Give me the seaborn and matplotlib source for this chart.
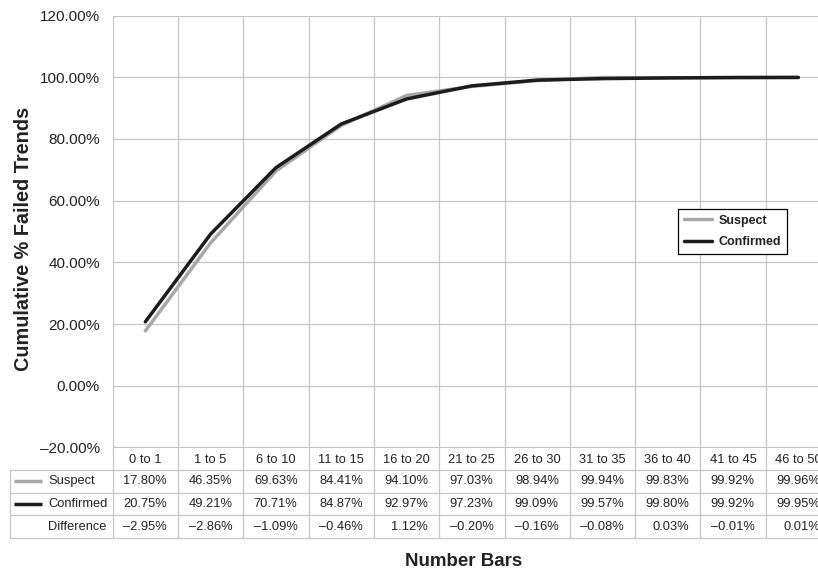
import numpy as np
import pandas as pd
import matplotlib
matplotlib.use("Agg")
import matplotlib.pyplot as plt
import seaborn as sns

# ---- data -------------------------------------------------------------
categories = ["0 to 1", "1 to 5", "6 to 10", "11 to 15", "16 to 20", "21 to 25",
              "26 to 30", "31 to 35", "36 to 40", "41 to 45", "46 to 50"]
suspect = [17.80, 46.35, 69.63, 84.41, 94.10, 97.03, 98.94, 99.94, 99.83, 99.92, 99.96]
confirmed = [20.75, 49.21, 70.71, 84.87, 92.97, 97.23, 99.09, 99.57, 99.80, 99.92, 99.95]
difference = [-2.95, -2.86, -1.09, -0.46, 1.12, -0.20, -0.16, -0.08, 0.03, -0.01, 0.01]
series_names = ["Suspect", "Confirmed"]
y_ticks = [-20, 0, 20, 40, 60, 80, 100, 120]

# ---- style ------------------------------------------------------------
sns.set_theme(style="whitegrid")
plt.rcParams["font.family"] = ["Liberation Sans", "DejaVu Sans"]

GRID = "#c6c6c6"
TEXT = "#222222"
palette = {"Suspect": "#a8a8a8", "Confirmed": "#1c1c1c"}
LW = 2.5

W, H = 818, 571
fig = plt.figure(figsize=(W / 100, H / 100), dpi=100)


def fx(px):
    return px / W


def fy(py):
    return 1 - py / H


# axes geometry in pixels
x0, x1 = 112.7, 831.0
ytop, ybot, tbot = 15.6, 447.5, 538.0
col_w = (x1 - x0) / len(categories)

ax = fig.add_axes([fx(x0), fy(ybot), (x1 - x0) / W, (ybot - ytop) / H])
tax = fig.add_axes([fx(x0), fy(tbot), (x1 - x0) / W, (tbot - ybot) / H])

# ---- lines ------------------------------------------------------------
df = pd.DataFrame({
    "Number Bars": categories * 2,
    "value": suspect + confirmed,
    "series": ["Suspect"] * len(categories) + ["Confirmed"] * len(categories),
})
sns.lineplot(data=df, x="Number Bars", y="value", hue="series",
             hue_order=series_names, palette=palette, linewidth=LW,
             sort=False, ax=ax)

n = len(categories)
ax.set_xlim(-0.5, n - 0.5)
ax.set_ylim(y_ticks[0], y_ticks[-1])
ax.set_xticks(np.arange(-0.5, n, 1.0))
ax.set_xticklabels([])
ax.tick_params(axis="x", length=0)
ax.set_yticks(y_ticks)
ax.set_yticklabels([f"{v:.2f}%".replace("-", "\u2013") for v in y_ticks])
ax.tick_params(axis="y", length=4.3, width=0.9, color=GRID, pad=5,
               labelsize=11, labelcolor=TEXT)
ax.grid(True, color=GRID, linewidth=0.9)
ax.set_xlabel("")
ax.set_ylabel("")
for s in ax.spines.values():
    s.set_visible(False)
ax.set_facecolor("white")

handles, labels = ax.get_legend_handles_labels()
leg = ax.legend(handles, labels, loc="upper left", bbox_to_anchor=(0.787, 0.552),
                frameon=True, fancybox=False, edgecolor="black", framealpha=1,
                prop=dict(weight="bold", size=9), handlelength=2.3,
                borderpad=0.45, labelspacing=0.77, handletextpad=0.5,
                borderaxespad=0)
leg.get_frame().set_linewidth(0.9)
for t in leg.get_texts():
    t.set_color(TEXT)

# ---- data table -------------------------------------------------------
tax.set_xlim(-0.5, n - 0.5)
tax.set_ylim(4, 0)
tax.axis("off")

left_edge = -0.5 - (x0 - 9.5) / col_w
right_edge = n + 1
for b in np.arange(-0.5, n, 1.0):
    tax.plot([b, b], [0, 4], color=GRID, lw=0.9, clip_on=False)
for r in [1, 2, 3, 4]:
    tax.plot([left_edge, right_edge], [r, r], color=GRID, lw=0.9, clip_on=False)
tax.plot([left_edge, left_edge], [1, 4], color=GRID, lw=0.9, clip_on=False)

tsize = 9.3
for i, c in enumerate(categories):
    tax.text(i, 0.55, c, ha="center", va="center", fontsize=tsize, color=TEXT,
             clip_on=False)

pad = 11 / col_w
rows = [("Suspect", suspect), ("Confirmed", confirmed), ("Difference", difference)]
for r, (name, vals) in enumerate(rows, start=1):
    for i, v in enumerate(vals):
        tax.text(i + 0.5 - pad, r + 0.5, f"{v:.2f}%".replace("-", "\u2013"),
                 ha="right", va="center", fontsize=tsize, color=TEXT, clip_on=False)
    tax.text(left_edge + (48 - 9.5) / col_w, r + 0.5, name, ha="left", va="center",
             fontsize=tsize, color=TEXT, clip_on=False)
    if name in palette:
        tax.plot([left_edge + 4 / col_w, left_edge + 32 / col_w], [r + 0.5, r + 0.5],
                 color=palette[name], lw=LW, solid_capstyle="butt", clip_on=False)

# ---- axis titles ------------------------------------------------------
fig.text(fx(463.5), fy(561), "Number Bars", ha="center", va="center",
         fontsize=13.5, fontweight="bold", color=TEXT)
fig.text(fx(24), fy(239), "Cumulative % Failed Trends", ha="center", va="center",
         rotation=90, fontsize=14.3, fontweight="bold", color=TEXT)

fig.save_path = "out.png"
fig.savefig(fig.save_path, dpi=100)
